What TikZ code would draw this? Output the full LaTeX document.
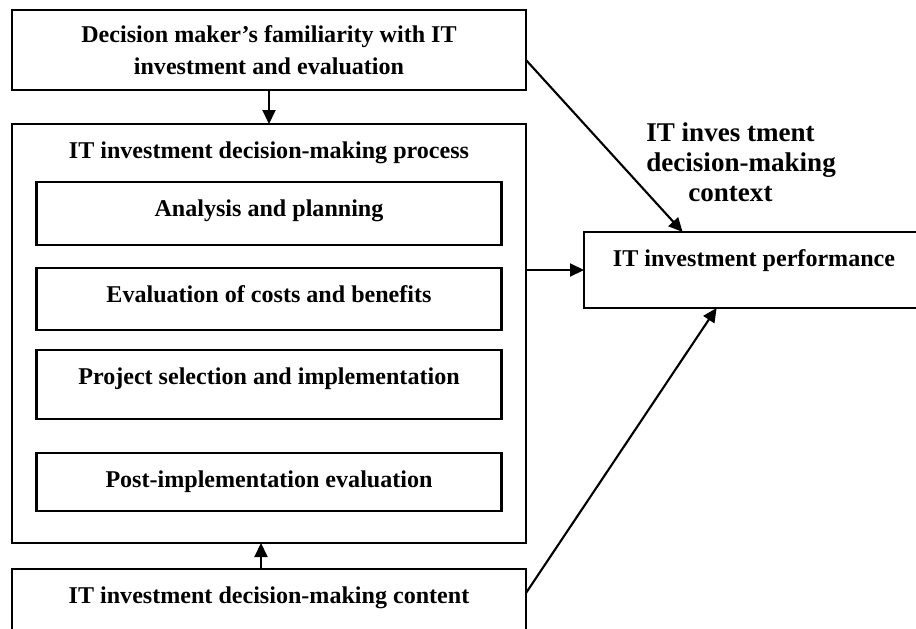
\documentclass[tikz,border=0pt]{standalone}
\usepackage{fontspec}
\setmainfont{Liberation Serif}
\usetikzlibrary{positioning,calc,arrows.meta}

\begin{document}
\begin{tikzpicture}[
    frame/.style={
        rectangle,
        draw=black, line width=1.4pt,
        inner sep=0pt, outer sep=0pt,
        font=\fontsize{13.7}{18.5}\selectfont\bfseries
    },
    stage/.style={frame, text height=0.68cm}, % baseline sits 0.68cm under the top edge
    ctxtext/.style={align=left, inner sep=0pt, font=\fontsize{15.4}{17}\selectfont\bfseries},
    arrow/.style={-{Triangle[length=0.28cm,width=0.26cm]}, line width=1.2pt},
    node distance=0.68cm
]
\useasboundingbox (0,0) rectangle (18.32,-12.58);

% --- TOP: familiarity of the decision maker ---
\node[frame, align=center, minimum width=10.28cm, minimum height=1.6cm, anchor=north] (familiar) at (5.38,-0.2)
    {Decision maker’s familiarity with IT\\investment and evaluation};

% --- MIDDLE: process frame with its four stages ---
\node[stage, minimum width=10.28cm, text depth=7.7cm, below=of familiar] (process) {IT investment decision-making process};
\node[stage, minimum width=9.3cm, text depth=0.58cm, below=1.16cm of process.north] (analysis) {Analysis and planning};
\node[stage, minimum width=9.3cm, text depth=0.56cm, below=0.46cm of analysis] (costs) {Evaluation of costs and benefits};
\node[stage, minimum width=9.3cm, text depth=0.70cm, below=0.40cm of costs] (select) {Project selection and implementation};
\node[stage, minimum width=9.3cm, text depth=0.48cm, below=of select] (post) {Post-implementation evaluation};

% --- BOTTOM: content ---
\node[stage, minimum width=10.28cm, text depth=0.92cm, below=0.52cm of process] (content) {IT investment decision-making content};

% --- RIGHT: performance and context ---
\node[stage, minimum width=6.8cm, text depth=0.84cm, anchor=north west] (perf) at (11.68,-4.64) {IT investment performance};
\node[ctxtext, anchor=north west] (ctx) at (12.92,-2.45) {IT inves tment\\decision-making\\\hspace*{0.84cm}context};

% --- ARROWS ---
% 1. familiarity -> process
\draw[arrow] (familiar.south) -- (process.north);

% 2. content -> process
\draw[arrow] ($(content.north)+(-0.16,0)$) -- ($(process.south)+(-0.16,0)$);

% 3. process -> performance
\draw[arrow] (process.east |- perf.west) -- (perf.west);

% 4. familiarity -> performance (diagonal down)
\draw[arrow] ($(familiar.north east)!0.625!(familiar.south east)$) -- ($(perf.north west)!0.29!(perf.north east)$);

% 5. content -> performance (diagonal up)
\draw[arrow] ($(content.north east)!0.3!(content.south east)$) -- ($(perf.south west)!0.39!(perf.south east)$);

\end{tikzpicture}
\end{document}
